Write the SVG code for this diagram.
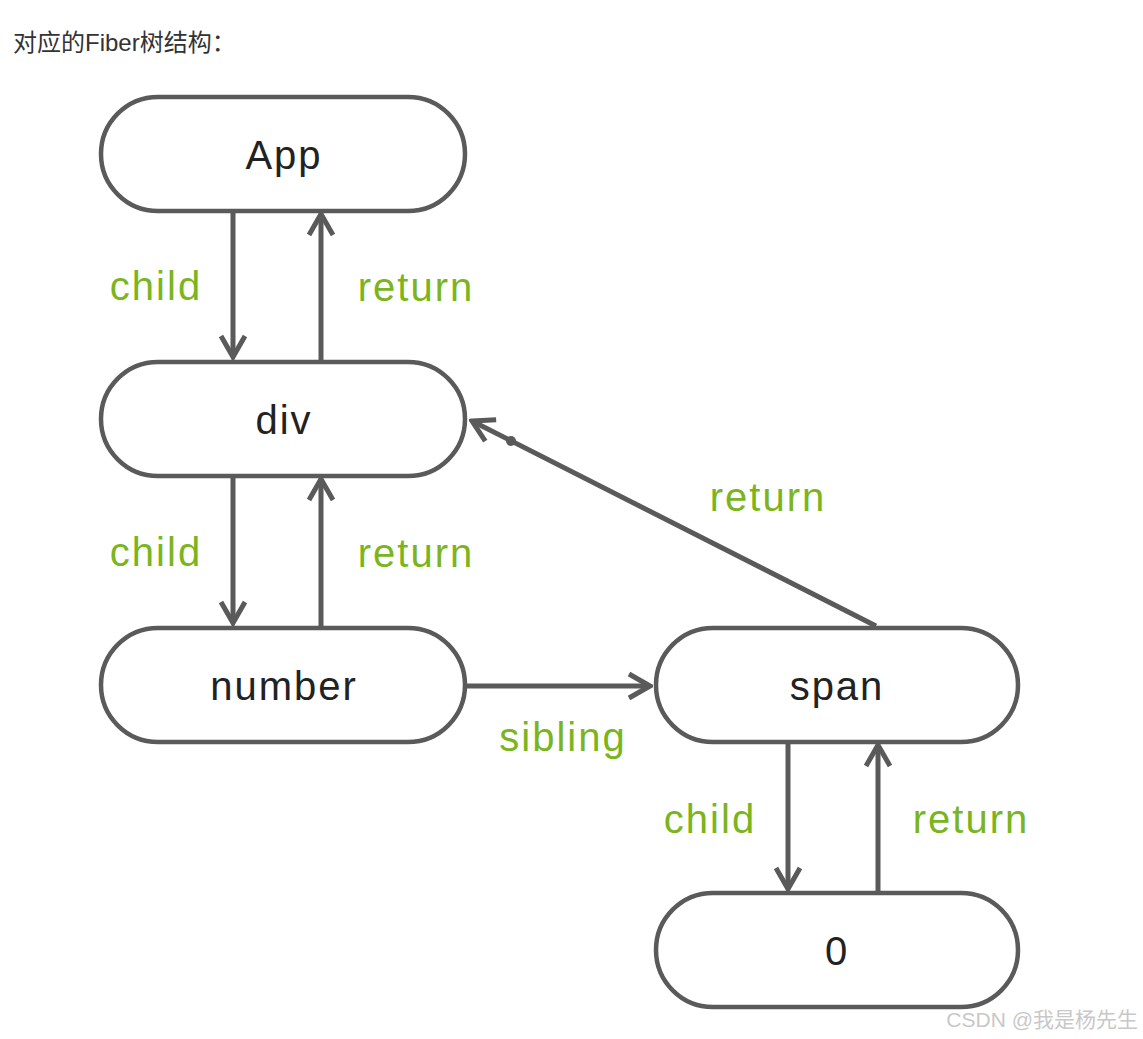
<svg xmlns="http://www.w3.org/2000/svg" width="1143" height="1039" viewBox="0 0 1143 1039">
<style>
.node rect{fill:#fff;stroke:#5a5a5a;stroke-width:4.5}
.node text{font-family:"Liberation Sans",Arial,sans-serif;font-size:40px;letter-spacing:2px;fill:#222;text-anchor:middle;dominant-baseline:central}
.edge{stroke:#5a5a5a;stroke-width:5;fill:none}
.lbl{font-family:"Liberation Sans",Arial,sans-serif;font-size:40px;letter-spacing:2px;fill:#7ab51d;text-anchor:middle;dominant-baseline:central}
</style>
<defs>
<marker id="ah" viewBox="0 0 30 30" refX="27" refY="15" markerWidth="30" markerHeight="30" markerUnits="userSpaceOnUse" orient="auto">
<polyline points="6,3 27,15 6,27" fill="none" stroke="#5a5a5a" stroke-width="5" stroke-linejoin="miter"/>
</marker>
</defs>
<rect width="1143" height="1039" fill="#fff"/>
<text x="13" y="51" font-family="'Liberation Sans','Noto Sans CJK SC',sans-serif" font-size="24" fill="#333">对应的Fiber树结构：</text>
<g id="connectors">
<line class="edge" x1="233" y1="211" x2="233" y2="357" marker-end="url(#ah)"/>
<line class="edge" x1="321" y1="360" x2="321" y2="214" marker-end="url(#ah)"/>
<line class="edge" x1="233" y1="476" x2="233" y2="623" marker-end="url(#ah)"/>
<line class="edge" x1="321" y1="626" x2="321" y2="479" marker-end="url(#ah)"/>
<line class="edge" x1="465" y1="686" x2="650" y2="686" marker-end="url(#ah)"/>
<line class="edge" x1="788" y1="742" x2="788" y2="889" marker-end="url(#ah)"/>
<line class="edge" x1="878" y1="891" x2="878" y2="745" marker-end="url(#ah)"/>
<line class="edge" x1="876" y1="626" x2="472" y2="421" marker-end="url(#ah)"/>
<circle cx="511" cy="441" r="5" fill="#5a5a5a"/>
<text class="lbl" x="156" y="286">child</text>
<text class="lbl" x="416" y="287">return</text>
<text class="lbl" x="156" y="552">child</text>
<text class="lbl" x="416" y="553">return</text>
<text class="lbl" x="768" y="497">return</text>
<text class="lbl" x="563" y="737">sibling</text>
<text class="lbl" x="710" y="819">child</text>
<text class="lbl" x="971" y="819">return</text>
</g>
<g id="node-app" class="node"><rect x="101" y="97" width="364" height="114" rx="57"/><text x="284" y="155">App</text></g>
<g id="node-div" class="node"><rect x="101" y="362" width="364" height="114" rx="57"/><text x="284" y="420">div</text></g>
<g id="node-number" class="node"><rect x="101" y="628" width="364" height="114" rx="57"/><text x="284" y="686">number</text></g>
<g id="node-span" class="node"><rect x="656" y="628" width="362" height="114" rx="57"/><text x="837" y="686">span</text></g>
<g id="node-0" class="node"><rect x="656" y="893" width="362" height="114" rx="57"/><text x="837" y="951">0</text></g>
<text x="1138" y="1027" text-anchor="end" font-family="'Liberation Sans','Noto Sans CJK SC',sans-serif" font-size="21" fill="#c8c8c8">CSDN @我是杨先生</text>
</svg>
